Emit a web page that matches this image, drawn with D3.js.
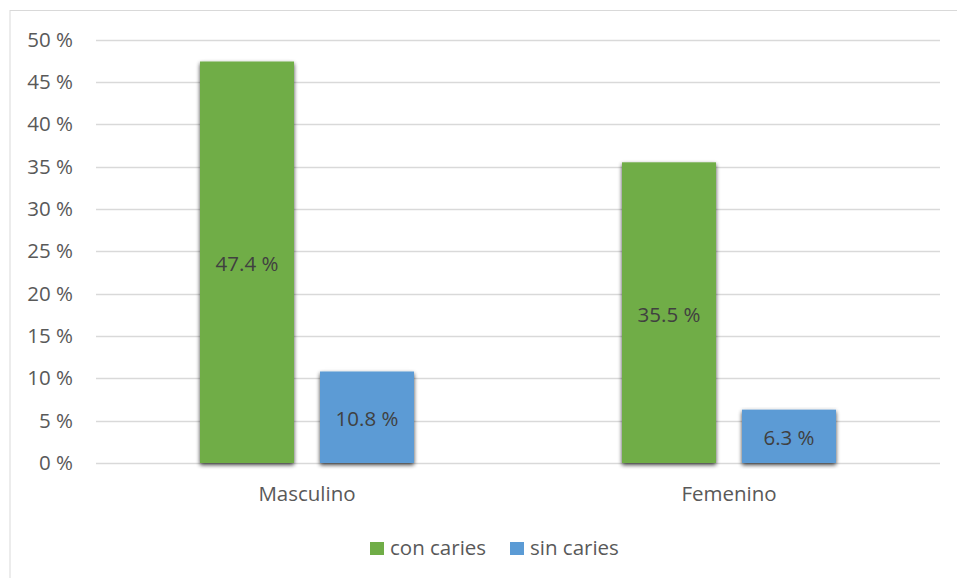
<!DOCTYPE html>
<html><head><meta charset="utf-8">
<script src="https://cdn.jsdelivr.net/npm/d3@7"></script>
<style>body{margin:0;background:#fff;} svg{display:block;font-family:"Open Sans","Noto Sans",sans-serif;}</style>
</head><body>
<svg id="c" width="957" height="578"></svg>
<script>
const categories = ["Masculino", "Femenino"];
const seriesNames = ["con caries", "sin caries"];
const conCaries = [47.4, 35.5];
const sinCaries = [10.8, 6.3];
const yTicks = [0, 5, 10, 15, 20, 25, 30, 35, 40, 45, 50];
const colors = ["#70AD47", "#5B9BD5"];

(function(){
const svg = d3.select("#c");
svg.append("rect").attr("x", 10).attr("y", 10.5).attr("width", 960).attr("height", 580)
  .attr("fill", "none").attr("stroke", "#d9d9d9").attr("stroke-width", 1);

const defs = svg.append("defs");
const f = defs.append("filter").attr("id", "sh").attr("x", "-20%").attr("y", "-5%").attr("width", "140%").attr("height", "115%");
f.append("feGaussianBlur").attr("in", "SourceAlpha").attr("stdDeviation", 2.2).attr("result", "b");
f.append("feOffset").attr("in", "b").attr("dx", 0).attr("dy", 1.5).attr("result", "o");
f.append("feComponentTransfer").attr("in", "o").attr("result", "o2").append("feFuncA").attr("type", "linear").attr("slope", 0.75);
const m = f.append("feMerge");
m.append("feMergeNode").attr("in", "o2");
m.append("feMergeNode").attr("in", "SourceGraphic");

const pL = 96, pR = 940, pT = 39.5, pB = 463;
const x = d3.scaleBand().domain(categories).range([pL, pR]);
const xs = d3.scaleBand().domain(seriesNames).range([0, x.bandwidth()]).paddingInner(0.2167).paddingOuter(0.8667);
const y = d3.scaleLinear().domain([0, 50]).range([pB, pT]);

svg.append("g").selectAll("line").data(yTicks).join("line")
  .attr("x1", pL).attr("x2", pR)
  .attr("y1", d => Math.round(y(d)) + 0.5).attr("y2", d => Math.round(y(d)) + 0.5)
  .attr("stroke", "#d9d9d9").attr("stroke-width", 1.3);

svg.append("g").selectAll("text").data(yTicks).join("text")
  .attr("x", 73).attr("y", d => y(d)).attr("dy", "0.35em")
  .attr("text-anchor", "end").attr("fill", "#595959").attr("font-size", 20.5)
  .text(d => d + " %");

const data = [];
categories.forEach((c, i) => {
  data.push({cat: c, s: seriesNames[0], v: conCaries[i], col: colors[0]});
  data.push({cat: c, s: seriesNames[1], v: sinCaries[i], col: colors[1]});
});

const g = svg.append("g");
g.selectAll("rect").data(data).join("rect")
  .attr("x", d => x(d.cat) + xs(d.s)).attr("width", xs.bandwidth())
  .attr("y", d => y(d.v)).attr("height", d => y(0) - y(d.v))
  .attr("fill", d => d.col).attr("filter", "url(#sh)");

g.selectAll("text").data(data).join("text")
  .attr("x", d => x(d.cat) + xs(d.s) + xs.bandwidth() / 2)
  .attr("y", d => (y(d.v) + y(0)) / 2 + 2).attr("dy", "0.35em")
  .attr("text-anchor", "middle").attr("fill", "#404040").attr("font-size", 20.5)
  .text(d => d.v.toFixed(1) + " %");

svg.append("g").selectAll("text").data(categories).join("text")
  .attr("x", d => x(d) + x.bandwidth() / 2).attr("y", 494).attr("dy", "0.35em")
  .attr("text-anchor", "middle").attr("fill", "#595959").attr("font-size", 20.5)
  .text(d => d);

const leg = [{n: seriesNames[0], c: colors[0], x: 370}, {n: seriesNames[1], c: colors[1], x: 510}];
const lg = svg.append("g").selectAll("g").data(leg).join("g").attr("transform", d => `translate(${d.x},0)`);
lg.append("rect").attr("x", 0).attr("y", 542).attr("width", 14).attr("height", 13).attr("fill", d => d.c);
lg.append("text").attr("x", 20).attr("y", 548).attr("dy", "0.35em").attr("fill", "#595959").attr("font-size", 20.5).text(d => d.n);
})();
</script>
</body></html>
